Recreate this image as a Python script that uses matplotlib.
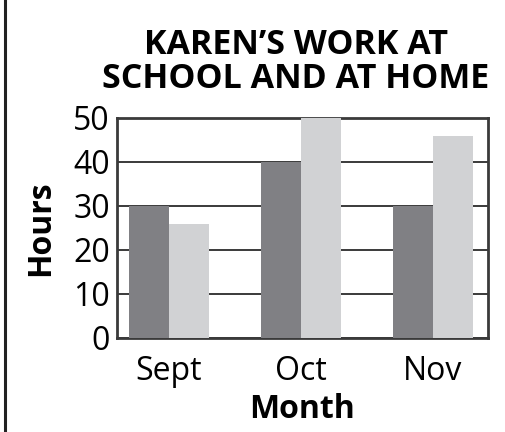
import numpy as np
import matplotlib.pyplot as plt
from matplotlib.patches import Rectangle

months = ["Sept", "Oct", "Nov"]
school = [30, 40, 30]
home = [26, 50, 46]

plt.rcParams['font.family'] = ['Open Sans', 'DejaVu Sans']

W, H = 505, 432
fig = plt.figure(figsize=(W/100, H/100), dpi=100)
# axes box in pixels: left 117, right 488, top 118, bottom 338
ax = fig.add_axes([117/W, 1-338/H, (488-117)/W, (338-118)/H])

x = np.arange(len(months))
w = 0.303
ax.bar(x - w/2, school, w, color="#808084", zorder=3)
ax.bar(x + w/2, home, w, color="#d1d2d4", zorder=3)

ax.set_xlim(-0.394, 2.417)
ax.set_ylim(0, 50)
ax.set_yticks([0, 10, 20, 30, 40, 50])
ax.set_xticks(x)
ax.set_xticklabels(months)
ax.tick_params(length=0, labelsize=23, pad=5, colors="black")
ax.tick_params(axis="x", pad=12.5)
ax.yaxis.grid(True, color="#3a3a3a", lw=1.4, zorder=1)
for s in ax.spines.values():
    s.set_linewidth(2)
    s.set_color("#3a3a3a")

ax.set_ylabel("Hours", fontsize=23, fontweight="bold", labelpad=12)
ax.set_xlabel("Month", fontsize=23, fontweight="bold", labelpad=3)

fig.text(296/W, 1-88/H, "KAREN\u2019S WORK AT\nSCHOOL AND AT HOME", ha="center",
         va="baseline", fontsize=24.5, fontweight="bold", linespacing=1.0)

# outer frame, runs off the right and bottom edges
fig.add_artist(Rectangle((5/W, -0.2), 1.2, 1.2 + (1 - 7.5/H), transform=fig.transFigure,
                         fill=False, ec="#222222", lw=2.2, clip_on=False))

fig.savefig("out.png", dpi=100)
